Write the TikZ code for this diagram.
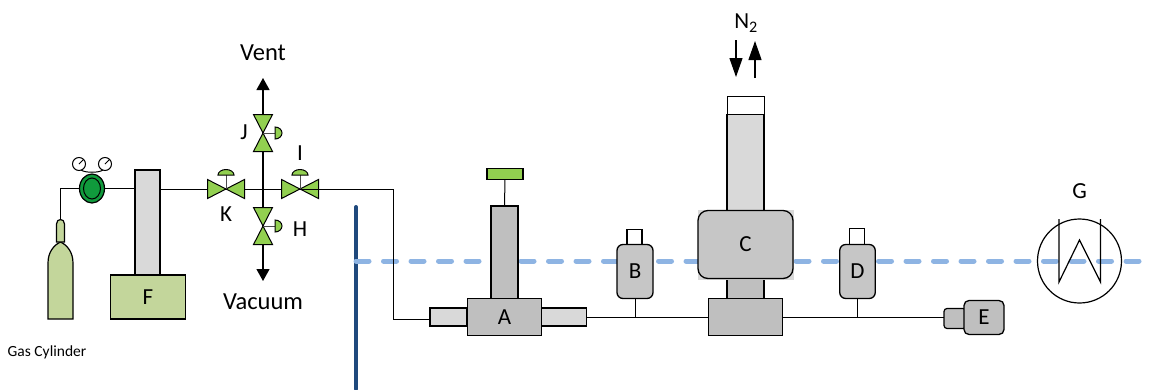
\documentclass[tikz,border=0pt]{standalone}
\usepackage{fontspec}
\setmainfont{Carlito}
\usetikzlibrary{arrows.meta,shapes.geometric,calc}
\definecolor{valvegreen}{HTML}{92D050}
\definecolor{paleolive}{HTML}{C3D69B}
\definecolor{lightgrey}{HTML}{D9D9D9}
\definecolor{midgrey}{HTML}{BFBFBF}
\definecolor{hatchgrey}{HTML}{C6C6C6}
\definecolor{darkblue}{HTML}{1F497D}
\definecolor{paleblue}{HTML}{8EB4E3}
\definecolor{regulator}{HTML}{109A3C}
\tikzset{
  x=1pt,y=-1pt,
  every node/.style={inner sep=0pt,outer sep=0pt},
  lightbox/.style={rectangle,draw=black,line width=1.3pt,fill=lightgrey},
  midbox/.style={rectangle,draw=black,line width=1.3pt,fill=midgrey},
  whitebox/.style={rectangle,draw=black,line width=1.1pt,fill=white},
  sensor/.style={rectangle,rounded corners=6pt,draw=black,line width=1.3pt,fill=hatchgrey},
  pipe/.style={draw=black,line width=1pt},
  valvepart/.style={draw=black,line width=1pt,fill=valvegreen},
  stem/.style={draw=black!70,line width=1pt},
  flow/.style={draw=black,line width=1.2pt,-{Triangle[length=12pt,width=13pt]}},
  nflow/.style={draw=black,line width=1.2pt,-{Triangle[length=19pt,width=13pt]}},
  lab/.style={font=\fontsize{23}{26}\selectfont,text=black},
  bigtext/.style={font=\fontsize{24.5}{28}\selectfont,text=black},
  gauge/.style={circle,draw=black,line width=1pt,fill=white,minimum size=13pt},
}
\newcommand{\valveH}[1]{%
  \path[valvepart] (#1) -- ++(-18.5,-9.5) -- ++(0,19) -- cycle;
  \path[valvepart] (#1) -- ++(18.5,-9.5) -- ++(0,19) -- cycle;
  \draw[stem] (#1) -- ++(0,-14);
  \path[valvepart] ($(#1)+(-8,-14)$) arc[start angle=180,end angle=0,x radius=8,y radius=-5.5] -- cycle;
}
\newcommand{\valveV}[1]{%
  \path[valvepart] (#1) -- ++(-9.5,-18.5) -- ++(19,0) -- cycle;
  \path[valvepart] (#1) -- ++(-9.5,18.5) -- ++(19,0) -- cycle;
  \draw[stem] (#1) -- ++(12,0);
  \path[valvepart] ($(#1)+(12,-6)$) arc[start angle=90,end angle=-90,x radius=7,y radius=-6] -- cycle;
}
\begin{document}
\begin{tikzpicture}
\useasboundingbox (0,0) rectangle (1149,389);
% blue lines
\coordinate (bluetop) at (356,207);
\coordinate (bluebot) at (356,389);
\coordinate (dashL) at (356,261);
\coordinate (dashR) at (1139.5,261);
\draw[darkblue,line width=4pt,line cap=round] (bluetop) -- (bluebot);
\draw[paleblue,line width=5pt,line cap=round,dash pattern=on 13pt off 14.5pt] (dashL) -- (dashR);

% valve centres
\coordinate (K) at (226,189);
\coordinate (I) at (300,189);
\coordinate (J) at (263,133);
\coordinate (H) at (263,226);
\coordinate (X) at (263,189);
\coordinate (ventend) at (263,78);
\coordinate (vacend) at (263,281);

% gas cylinder
\draw[line width=1.2pt,fill=paleolive] (48,319) -- (48,263) .. controls (48,252) and (54,245) .. (60.5,242) .. controls (67,245) and (73,252) .. (73,263) -- (73,319) -- cycle;
\draw[line width=1.2pt,fill=paleolive] (56.5,242) -- (56.5,224) .. controls (56.5,218) and (64.5,218) .. (64.5,224) -- (64.5,242) -- cycle;
\coordinate (neck) at (60.5,219);
\node[gauge] (g1) at (79,164) {};
\node[gauge] (g2) at (105,164) {};
\node[ellipse,draw=black,line width=1.2pt,fill=regulator,minimum width=25pt,minimum height=29pt] (reg) at (92,188.5) {};
\node[ellipse,draw=black,line width=1pt,minimum width=17pt,minimum height=21pt] (regin) at (92,188.5) {};
\draw[line width=1pt] (81,170) .. controls (85,173) and (99,173) .. (103,170);
\draw[line width=.8pt] (g1.center) -- (g1.north east);
\draw[line width=.8pt] (g2.center) -- (g2.north east);

% F
\node[lightbox,minimum width=25pt,minimum height=105pt] (Fcol) at (147.5,222.5) {};
\node[rectangle,draw=black,line width=1.3pt,fill=paleolive,minimum width=75pt,minimum height=44pt,lab] (F) at (148,297) {F};

% gas line
\draw[pipe] (neck) |- (reg.west);
\draw[pipe] (reg.east) -- (Fcol.west |- reg.east);
\draw[pipe] (Fcol.east |- K) -- (K);
\draw[pipe] (K) -- (I);
\draw[flow] (X) -- (ventend);
\draw[flow] (X) -- (vacend);
\valveH{K}
\valveH{I}
\valveV{J}
\valveV{H}

% A
\node[lightbox,minimum width=37pt,minimum height=18pt] (Aleft) at (448.5,317) {};
\node[lightbox,minimum width=45pt,minimum height=18pt] (Aright) at (564,317) {};
\node[midbox,minimum width=27pt,minimum height=93pt] (Acol) at (504.5,252.5) {};
\node[midbox,minimum width=74.5pt,minimum height=37pt,lab] (A) at (504.5,317) {A};
\node[rectangle,draw=black,line width=1.1pt,fill=valvegreen,minimum width=36pt,minimum height=10.5pt] (Atop) at (505,174) {};
\draw[pipe] (Atop.south) -- (Acol.north);
\draw[pipe] (I) -| (393,319) -- (Aleft.west |- 393,319);

% C
\node[midbox,minimum width=37pt,minimum height=21pt] (Cneck) at (745.5,288) {};
\node[lightbox,minimum width=37pt,minimum height=96pt] (Ccol) at (745.5,162.5) {};
\node[whitebox,minimum width=37pt,minimum height=18pt] (Ccap) at (746,105.5) {};
\fill[lightgrey] (698,210) rectangle (794,280);
\node[sensor,rounded corners=10pt,minimum width=95pt,minimum height=68pt,lab] (C) at (745.5,244.5) {C};
\node[midbox,minimum width=74.5pt,minimum height=37pt] (Cbase) at (745.5,317) {};

% B, D
\node[whitebox,minimum width=15pt,minimum height=15pt] (Bcap) at (634.5,237) {};
\node[sensor,minimum width=36pt,minimum height=54pt,lab] (B) at (635,271.5) {B};
\node[whitebox,minimum width=15pt,minimum height=16pt] (Dcap) at (857,236.5) {};
\node[sensor,minimum width=35.5pt,minimum height=54pt,lab] (D) at (857.5,271.5) {D};

% E
\node[rectangle,rounded corners=3pt,draw=black,line width=1.2pt,fill=midgrey,minimum width=22pt,minimum height=20pt] (Esmall) at (955,318.5) {};
\node[rectangle,rounded corners=5pt,draw=black,line width=1.3pt,fill=midgrey,minimum width=40pt,minimum height=34pt,lab] (E) at (984,317.5) {E};

% main line
\coordinate (tB) at (B.south |- Aright.east);
\coordinate (tD) at (D.south |- Cbase.east);
\draw[pipe] (Aright.east) -- (Cbase.west);
\draw[pipe] (Cbase.east) -- (Esmall.west |- Cbase.east);
\draw[pipe] (B.south) -- (tB);
\draw[pipe] (D.south) -- (tD);

% G
\node[circle,draw=black,line width=1.2pt,minimum size=84pt] (Gc) at (1079.5,261) {};
\draw[line width=1.2pt] (1059,219) -- (1059,282) -- (1079.5,240) -- (1100.5,282) -- (1100.5,219);

% N2 arrows
\coordinate (n1a) at (736,40);
\coordinate (n1b) at (736,77);
\coordinate (n2a) at (755,78);
\coordinate (n2b) at (755,41);
\draw[nflow] (n1a) -- (n1b);
\draw[nflow] (n2a) -- (n2b);

% labels
\node[lab] (lN) at (746,23) {N\textsubscript{2}};
\node[bigtext] (lVent) at (263,53) {Vent};
\node[bigtext] (lVac) at (263,302) {Vacuum};
\node[lab] (lJ) at (244,132) {J};
\node[lab] (lI) at (300,153) {I};
\node[lab] (lK) at (226,214) {K};
\node[lab] (lH) at (300,229) {H};
\node[lab] (lG) at (1079.5,191) {G};
\node[font=\fontsize{15.5}{18}\selectfont] (lGas) at (47,352) {Gas Cylinder};
\end{tikzpicture}
\end{document}
